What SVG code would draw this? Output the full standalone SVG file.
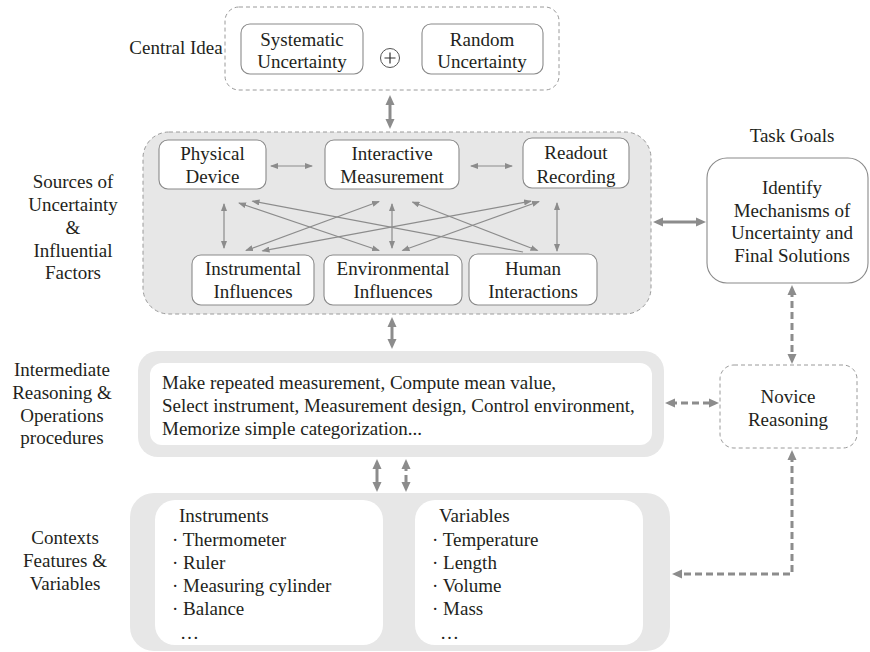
<svg xmlns="http://www.w3.org/2000/svg" width="870" height="652" viewBox="0 0 870 652">
<defs>
<style>
text{font-family:"Liberation Serif","Times New Roman",serif;font-size:19px;fill:#231f20}
.c{text-anchor:middle}
.box{fill:#fff;stroke:#8a8a8a;stroke-width:1.1}
.dbox{fill:#fff;stroke:#9a9a9a;stroke-width:1;stroke-dasharray:4 3}
.panel{fill:#e7e7e7}
.thin{stroke:#8c8c8c;stroke-width:1.2;fill:none;marker-start:url(#ah);marker-end:url(#ah)}
.thick{stroke:#8c8c8c;stroke-width:3;fill:none;marker-start:url(#at);marker-end:url(#at)}
.dash{stroke-dasharray:7 4}
</style>
<marker id="ah" viewBox="0 0 8 6" refX="7" refY="3" markerWidth="8" markerHeight="6" markerUnits="userSpaceOnUse" orient="auto-start-reverse"><path d="M0,0L8,3L0,6z" fill="#8c8c8c"/></marker>
<marker id="at" viewBox="0 0 10 10" refX="5" refY="5" markerWidth="10" markerHeight="10" markerUnits="userSpaceOnUse" orient="auto-start-reverse"><path d="M0,0.5L10,5L0,9.5z" fill="#8c8c8c"/></marker>
</defs>

<g id="labels">
<text class="c" x="176" y="54">Central Idea</text>
<text class="c" x="73" y="188">Sources of</text>
<text class="c" x="73" y="211">Uncertainty</text>
<text class="c" x="73" y="234">&amp;</text>
<text class="c" x="73" y="257">Influential</text>
<text class="c" x="73" y="279">Factors</text>
<text class="c" x="62" y="376">Intermediate</text>
<text class="c" x="62" y="399">Reasoning &amp;</text>
<text class="c" x="62" y="422">Operations</text>
<text class="c" x="62" y="444">procedures</text>
<text class="c" x="65" y="544">Contexts</text>
<text class="c" x="65" y="567">Features &amp;</text>
<text class="c" x="65" y="590">Variables</text>
<text class="c" x="792" y="142">Task Goals</text>
</g>

<g id="central-idea">
<rect class="dbox" x="225" y="7" width="334" height="83" rx="14"/>
<g id="systematic">
<rect class="box" x="241" y="24" width="122" height="50" rx="9"/>
<text class="c" x="302" y="46">Systematic</text>
<text class="c" x="302" y="68">Uncertainty</text>
</g>
<g id="plus">
<circle cx="390" cy="58" r="9.5" fill="#fff" stroke="#555" stroke-width="1"/>
<path d="M384.5,58H395.5M390,52.5V63.5" stroke="#333" stroke-width="1.2"/>
</g>
<g id="random">
<rect class="box" x="422" y="24" width="121" height="50" rx="9"/>
<text class="c" x="482" y="46">Random</text>
<text class="c" x="482" y="68">Uncertainty</text>
</g>
</g>

<g id="sources">
<rect x="143" y="132" width="508" height="182" rx="26" fill="#e7e7e7" stroke="#9a9a9a" stroke-width="1" stroke-dasharray="4 3"/>
<g id="physical-device">
<rect class="box" x="159" y="140" width="107" height="49" rx="9"/>
<text class="c" x="212.5" y="160">Physical</text>
<text class="c" x="212.5" y="183">Device</text>
</g>
<g id="interactive-measurement">
<rect class="box" x="325" y="140" width="134" height="49" rx="9"/>
<text class="c" x="392" y="160">Interactive</text>
<text class="c" x="392" y="183">Measurement</text>
</g>
<g id="readout-recording">
<rect class="box" x="523" y="138" width="106" height="50" rx="9"/>
<text class="c" x="576" y="159">Readout</text>
<text class="c" x="576" y="183">Recording</text>
</g>
<g id="instrumental-influences">
<rect class="box" x="192" y="255" width="122" height="50" rx="9"/>
<text class="c" x="253" y="275">Instrumental</text>
<text class="c" x="253" y="298">Influences</text>
</g>
<g id="environmental-influences">
<rect class="box" x="324" y="255" width="138" height="50" rx="9"/>
<text class="c" x="393" y="275">Environmental</text>
<text class="c" x="393" y="298">Influences</text>
</g>
<g id="human-interactions">
<rect class="box" x="469" y="254" width="128" height="51" rx="9"/>
<text class="c" x="533" y="275">Human</text>
<text class="c" x="533" y="298">Interactions</text>
</g>
</g>

<g id="task-goals">
<rect x="707" y="158" width="161" height="125" rx="20" fill="#fff" stroke="#8a8a8a" stroke-width="1.1"/>
<text class="c" x="792" y="194">Identify</text>
<text class="c" x="792" y="216.5">Mechanisms of</text>
<text class="c" x="792" y="239">Uncertainty and</text>
<text class="c" x="792" y="261.5">Final Solutions</text>
</g>

<g id="intermediate">
<rect class="panel" x="138" y="351" width="526" height="106" rx="20"/>
<rect x="150" y="363" width="502" height="82" rx="12" fill="#fff"/>
<text x="162" y="389">Make repeated measurement, Compute mean value,</text>
<text x="162" y="412">Select instrument, Measurement design, Control environment,</text>
<text x="162" y="435">Memorize simple categorization...</text>
</g>

<g id="novice-reasoning">
<rect class="dbox" x="720" y="365" width="137" height="83" rx="14"/>
<text class="c" x="788" y="403">Novice</text>
<text class="c" x="788" y="426">Reasoning</text>
</g>

<g id="contexts">
<rect class="panel" x="130" y="493" width="540" height="158" rx="24"/>
<g id="instruments">
<rect x="155" y="500" width="228" height="145" rx="20" fill="#fff"/>
<text x="179" y="522">Instruments</text>
<text x="172" y="546">· Thermometer</text>
<text x="172" y="569">· Ruler</text>
<text x="172" y="592">· Measuring cylinder</text>
<text x="172" y="615">· Balance</text>
<text x="180" y="639">…</text>
</g>
<g id="variables">
<rect x="415" y="500" width="228" height="145" rx="20" fill="#fff"/>
<text x="439" y="522">Variables</text>
<text x="432" y="546">· Temperature</text>
<text x="432" y="569">· Length</text>
<text x="432" y="592">· Volume</text>
<text x="432" y="615">· Mass</text>
<text x="440" y="639">…</text>
</g>
</g>

<g id="connectors">
<line class="thin" x1="271" y1="166" x2="312" y2="166"/>
<line class="thin" x1="471" y1="166" x2="512" y2="166"/>
<line class="thin" x1="224" y1="204" x2="224" y2="248"/>
<line class="thin" x1="392" y1="204" x2="392" y2="248"/>
<line class="thin" x1="557" y1="203" x2="557" y2="251"/>
<line class="thin" x1="239" y1="203" x2="379" y2="250.5"/>
<line x1="252.5" y1="201.2" x2="523" y2="252" stroke="#8c8c8c" stroke-width="1.2" marker-start="url(#ah)"/>
<line class="thin" x1="246" y1="250.5" x2="379" y2="201.5"/>
<line class="thin" x1="262.5" y1="250.8" x2="531" y2="201.2"/>
<line class="thin" x1="402.5" y1="250.5" x2="539" y2="201.5"/>
<line class="thin" x1="412.5" y1="202" x2="537.5" y2="250.5"/>

<line class="thick" x1="390" y1="100" x2="390" y2="124"/>
<line class="thick" x1="392" y1="322" x2="392" y2="344"/>
<line class="thick" x1="658" y1="222" x2="701" y2="222"/>
<line class="thick" x1="377" y1="464" x2="377" y2="487"/>
<line class="thick dash" x1="406" y1="464" x2="406" y2="487" stroke-dasharray="5 4"/>
<line class="thick dash" x1="792" y1="290" x2="792" y2="359"/>
<line class="thick dash" x1="670" y1="403" x2="714" y2="403"/>
<path class="thick dash" d="M792,455V574H677"/>
</g>
</svg>
